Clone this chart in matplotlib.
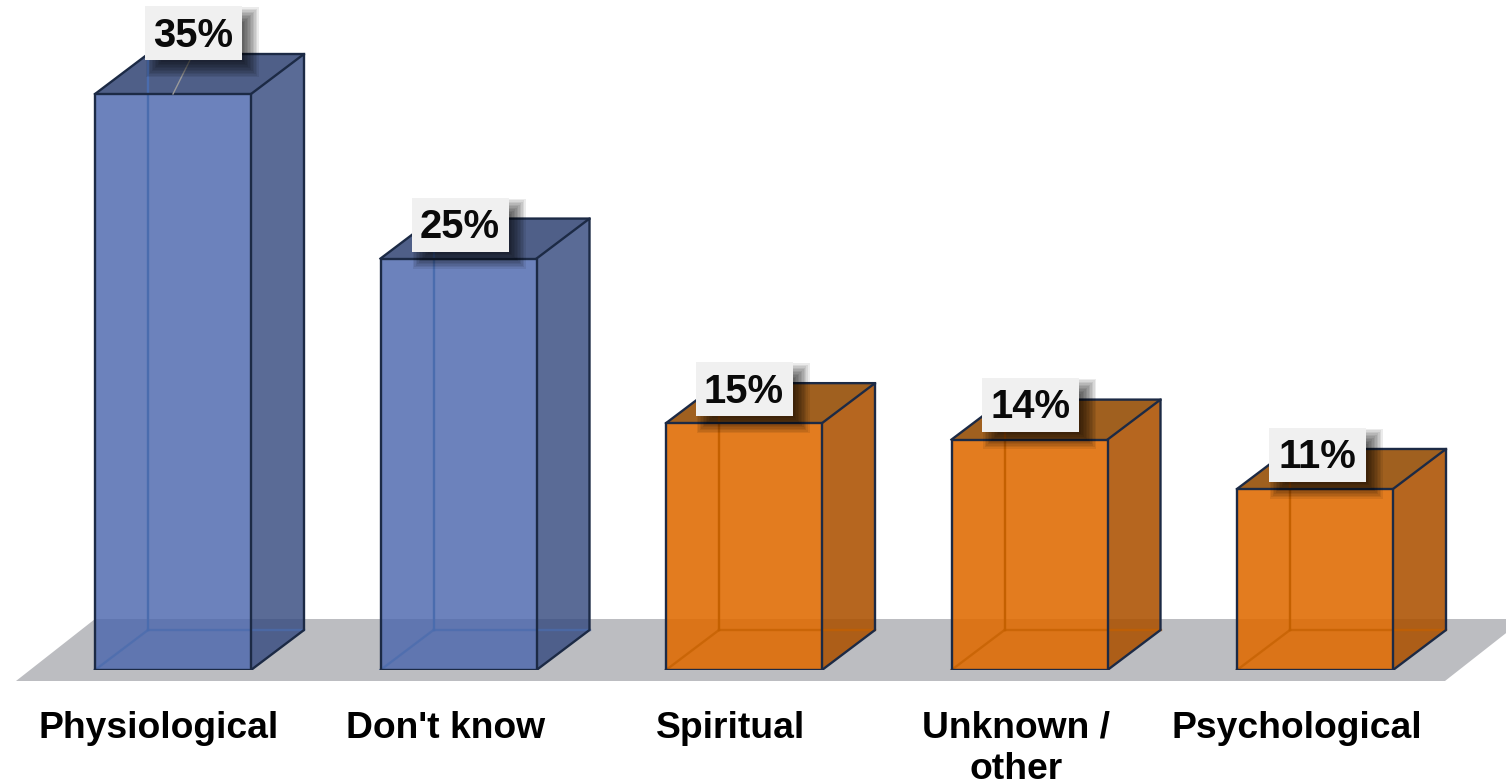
import numpy as np
import matplotlib
matplotlib.use("Agg")
import matplotlib.pyplot as plt
from matplotlib.patches import Polygon, Rectangle

# data
categories = ["Physiological", "Don't know", "Spiritual", "Unknown /\nother", "Psychological"]
values = [35, 25, 15, 14, 11]
bar_groups = ["blue", "blue", "orange", "orange", "orange"]

plt.rcParams["font.family"] = ["Liberation Sans", "DejaVu Sans"]

# scale of the axes, pixels per unit
W, H = 1506, 784
base_px = 670
PX_X = 285.5
PX_Y = 16.457
x0_px = 173

# colours: front, side, top, inner line, alpha
palette = {
    "blue": ("#4C67AD", "#364B7F", "#283C6E", "#4A6CAE", 0.82),
    "orange": ("#E06A00", "#AC5100", "#934A00", "#C46000", 0.88),
}
edge_col = "#1C2A45"
floor_col = "#BCBDC1"

fig = plt.figure(figsize=(W / 100, H / 100), dpi=100)
ax = fig.add_axes([0, (H - base_px) / H, 1, base_px / H])
ax.set_xlim(-x0_px / PX_X, (W - x0_px) / PX_X)
ax.set_ylim(0, base_px / PX_Y)
for s in ax.spines.values():
    s.set_visible(False)
ax.set_yticks([])

half = 78 / PX_X
dx = 53 / PX_X
dy = 40 / PX_Y

# floor
floor_l = (16 - x0_px) / PX_X
floor_r = (1445 - x0_px) / PX_X
floor_b = -11 / PX_Y
floor_t = 51 / PX_Y
floor_shift = 79 / PX_X
ax.add_patch(Polygon([(floor_l, floor_b), (floor_r, floor_b),
                      (floor_r + floor_shift, floor_t), (floor_l + floor_shift, floor_t)],
                     closed=True, fc=floor_col, ec="none", clip_on=False, zorder=1))

xs = np.arange(len(values))
lw = 1.7

for i, v in enumerate(values):
    front, side, top, inner, a = palette[bar_groups[i]]
    l = xs[i] - half
    r = xs[i] + half
    # faces
    ax.add_patch(Polygon([(l, 0), (r, 0), (r, v), (l, v)], closed=True,
                         fc=front, ec="none", alpha=a, zorder=3))
    ax.add_patch(Polygon([(r, 0), (r + dx, dy), (r + dx, v + dy), (r, v)], closed=True,
                         fc=side, ec="none", alpha=a, zorder=3))
    ax.add_patch(Polygon([(l, v), (r, v), (r + dx, v + dy), (l + dx, v + dy)], closed=True,
                         fc=top, ec="none", alpha=a, zorder=3))
    # inner edges of the box
    ax.plot([l + dx, l + dx], [dy, v + dy], color=inner, lw=lw, zorder=4)
    ax.plot([l + dx, r + dx], [dy, dy], color=inner, lw=lw, alpha=0.7, zorder=4)
    ax.plot([l, l + dx], [0, dy], color=inner, lw=lw, alpha=0.7, zorder=4)
    # outline
    ax.plot([l, r, r, l, l], [0, 0, v, v, 0], color=edge_col, lw=lw, zorder=5, solid_joinstyle="round")
    ax.plot([r, r + dx, r + dx, r], [0, dy, v + dy, v], color=edge_col, lw=lw, zorder=5)
    ax.plot([l, l + dx, r + dx], [v, v + dy, v + dy], color=edge_col, lw=lw, zorder=5)

# value labels with a soft shadow
box_w = 97 / PX_X
box_h = 54 / PX_Y
label_dx = [20, 1.5, 0, 1, 2]
label_dy = [61, 34, 34, 35, 34]
for i, v in enumerate(values):
    cx = xs[i] + label_dx[i] / PX_X
    cy = v + label_dy[i] / PX_Y
    if label_dy[i] > 40:
        ax.plot([xs[i], cx - 3 / PX_X], [v, cy - box_h / 2], color="#9A9A9A", lw=1, zorder=6)
    for grow in np.arange(8, -8, -1.5):
        ax.add_patch(Rectangle((cx - box_w / 2 + (9 - grow) / PX_X, cy - box_h / 2 - (9 + grow) / PX_Y),
                               box_w + 2 * grow / PX_X, box_h + 2 * grow / PX_Y,
                               fc="black", ec="none", alpha=0.08, zorder=7, clip_on=False))
    ax.add_patch(Rectangle((cx - box_w / 2, cy - box_h / 2), box_w, box_h,
                           fc="#F0F0F0", ec="none", zorder=8, clip_on=False))
    ax.text(cx, cy - 2.5 / PX_Y, f"{v}%", ha="center", va="center", fontsize=28.8,
            fontweight="bold", color="#0A0A0A", zorder=9, clip_on=False)

# category labels sit a little left of the bars
tick_shift = np.array([-14, -13, -13, -13, -18]) / PX_X
ax.set_xticks(xs + tick_shift, categories, fontsize=26.8, fontweight="bold", color="black", linespacing=1.22)
ax.tick_params(axis="x", length=0, pad=29.5)

fig.savefig("out.png", dpi=100, facecolor="white")
